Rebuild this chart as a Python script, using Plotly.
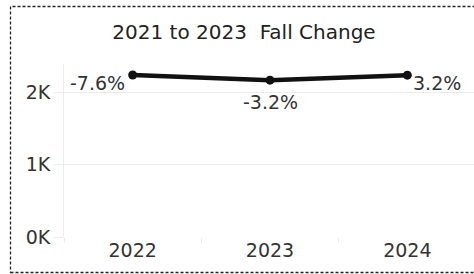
import plotly.graph_objects as go

years = ["2022", "2023", "2024"]
enrollment = [2234, 2163, 2232]
pct_change = ["-7.6%", "-3.2%", "3.2%"]
ytick_vals = [0, 1000, 2000]
ytick_text = ["0K", "1K", "2K"]
title_text = "2021 to 2023  Fall Change"

FONT = "DejaVu Sans"
TXT = "#333333"
GRID = "#ececec"

W, H = 474, 274
L, R, T, B = 64, 0, 64, 37
pw = W - L - R
ph = H - T - B
cat_w = 137.5

fig = go.Figure()
fig.add_trace(go.Scatter(
    x=years, y=enrollment, mode="lines+markers",
    line=dict(color="#111111", width=4.5),
    marker=dict(color="#111111", size=9),
    hoverinfo="skip", showlegend=False,
))

# label placement: left, below, right
anchors = [("right", "middle", -6, -8), ("center", "top", 0, -9), ("left", "middle", 4, -8)]
for i, (v, t, (xa, ya, xs, ys)) in enumerate(zip(enrollment, pct_change, anchors)):
    fig.add_annotation(x=i, y=v, text=t, showarrow=False, xanchor=xa, yanchor=ya,
                       xshift=xs, yshift=ys, font=dict(family=FONT, size=19, color=TXT))

def px_x(p):
    return (p - L) / pw

def px_y(p):
    return (H - B - p) / ph

fig.add_shape(type="rect", xref="paper", yref="paper",
              x0=px_x(10.5), x1=px_x(490), y0=px_y(272.5), y1=px_y(6.5),
              line=dict(color="#222222", width=1.3, dash="3px,2px"), layer="above")

fig.update_layout(
    width=W, height=H,
    margin=dict(l=L, r=R, t=T, b=B),
    paper_bgcolor="white", plot_bgcolor="white",
    font=dict(family=FONT, color=TXT),
    title=dict(text=title_text, x=px_x(244), xref="paper", xanchor="center",
               y=1 - 32 / H, yanchor="middle",
               font=dict(family=FONT, size=20, color="#222222")),
    xaxis=dict(type="category", range=[-0.5, 2.5 - 2 / cat_w],
               showgrid=False, zeroline=False, showline=False,
               ticks="outside", tickson="boundaries", ticklen=5, tickcolor=GRID,
               tickfont=dict(family=FONT, size=19, color=TXT)),
    yaxis=dict(range=[0, (H - B - T) / 72.5 * 1000], tickvals=ytick_vals, ticktext=ytick_text,
               showgrid=True, gridcolor=GRID, gridwidth=1, zeroline=False,
               showline=True, linecolor=GRID, linewidth=1,
               ticks="outside", ticklen=9, tickcolor=GRID,
               tickfont=dict(family=FONT, size=19, color=TXT)),
)

fig.write_html("out.html", config={"displayModeBar": False},
               post_script="document.body.style.margin='0';document.body.style.padding='0';")
